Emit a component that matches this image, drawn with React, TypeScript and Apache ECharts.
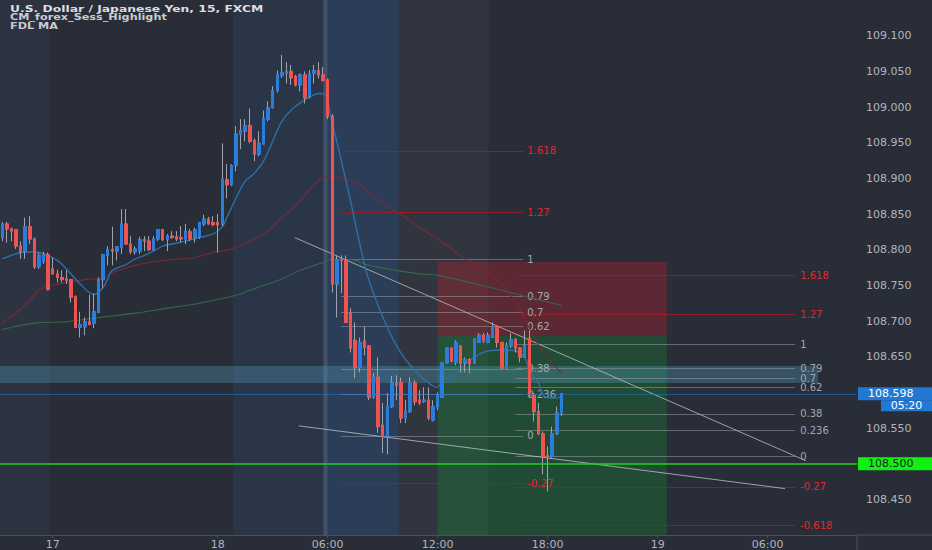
import React, { useEffect, useRef } from 'react';
import * as echarts from 'echarts';

// ---------- candle data (USDJPY, 15 min) ----------
const opens = [
  108.817, 108.836, 108.829, 108.828, 108.805, 108.797, 108.832, 108.815, 108.776, 108.783,
  108.793, 108.773, 108.766, 108.761, 108.759, 108.758, 108.734, 108.691, 108.692, 108.699,
  108.697, 108.712, 108.758, 108.792, 108.800, 108.798, 108.803, 108.836, 108.808, 108.797,
  108.798, 108.814, 108.812, 108.800, 108.815, 108.828, 108.814, 108.819, 108.818, 108.817,
  108.815, 108.825, 108.817, 108.818, 108.836, 108.843, 108.838, 108.838, 108.836, 108.898,
  108.891, 108.918, 108.962, 108.966, 108.974, 108.953, 108.934, 108.948, 108.983, 108.999,
  109.023, 109.044, 109.047, 109.050, 109.043, 109.031, 109.045, 109.015, 109.047, 109.051,
  109.045, 109.038, 108.987, 108.752, 108.786, 108.786, 108.712, 108.673, 108.635, 108.672,
  108.665, 108.593, 108.621, 108.554, 108.538, 108.580, 108.613, 108.614, 108.564, 108.573,
  108.613, 108.589, 108.587, 108.589, 108.561, 108.580, 108.593, 108.641, 108.662, 108.642,
  108.665, 108.641, 108.646, 108.641, 108.670, 108.680, 108.670, 108.677, 108.692, 108.670,
  108.634, 108.665, 108.674, 108.662, 108.649, 108.676, 108.596, 108.573, 108.542, 108.511,
  108.510, 108.542, 108.571,
];
const closes = [
  108.836, 108.829, 108.826, 108.805, 108.797, 108.832, 108.815, 108.776, 108.792, 108.793,
  108.744, 108.766, 108.761, 108.758, 108.757, 108.733, 108.691, 108.695, 108.699, 108.695,
  108.713, 108.758, 108.793, 108.800, 108.798, 108.804, 108.836, 108.808, 108.797, 108.801,
  108.814, 108.812, 108.800, 108.815, 108.828, 108.814, 108.819, 108.817, 108.815, 108.815,
  108.826, 108.815, 108.828, 108.838, 108.843, 108.836, 108.835, 108.835, 108.899, 108.891,
  108.918, 108.962, 108.967, 108.974, 108.952, 108.934, 108.949, 108.984, 108.999, 109.023,
  109.045, 109.048, 109.050, 109.041, 109.031, 109.045, 109.013, 109.047, 109.051, 109.045,
  109.037, 108.987, 108.752, 108.786, 108.785, 108.698, 108.662, 108.635, 108.670, 108.663,
  108.593, 108.621, 108.552, 108.538, 108.580, 108.614, 108.610, 108.564, 108.573, 108.613,
  108.587, 108.585, 108.589, 108.564, 108.580, 108.596, 108.641, 108.662, 108.644, 108.670,
  108.641, 108.646, 108.640, 108.674, 108.680, 108.673, 108.680, 108.692, 108.670, 108.634,
  108.666, 108.674, 108.662, 108.649, 108.666, 108.596, 108.573, 108.542, 108.510, 108.510,
  108.542, 108.571, 108.598,
];
const lows = [
  108.812, 108.810, 108.812, 108.801, 108.787, 108.787, 108.808, 108.773, 108.773, 108.780,
  108.743, 108.765, 108.754, 108.754, 108.752, 108.726, 108.690, 108.677, 108.680, 108.694,
  108.690, 108.711, 108.747, 108.778, 108.778, 108.785, 108.794, 108.807, 108.794, 108.793,
  108.794, 108.798, 108.798, 108.798, 108.812, 108.812, 108.798, 108.815, 108.812, 108.810,
  108.808, 108.812, 108.810, 108.815, 108.833, 108.835, 108.833, 108.796, 108.833, 108.872,
  108.889, 108.910, 108.941, 108.952, 108.949, 108.924, 108.931, 108.948, 108.980, 108.998,
  109.020, 109.041, 109.033, 109.031, 109.029, 109.022, 109.005, 109.012, 109.033, 109.040,
  109.036, 108.983, 108.740, 108.705, 108.739, 108.697, 108.656, 108.620, 108.628, 108.652,
  108.589, 108.591, 108.543, 108.515, 108.513, 108.578, 108.589, 108.557, 108.557, 108.571,
  108.582, 108.582, 108.585, 108.561, 108.559, 108.575, 108.592, 108.640, 108.642, 108.638,
  108.628, 108.628, 108.627, 108.640, 108.669, 108.669, 108.669, 108.676, 108.663, 108.633,
  108.633, 108.662, 108.656, 108.642, 108.648, 108.592, 108.559, 108.540, 108.485, 108.461,
  108.508, 108.540, 108.567,
];
const highs = [
  108.839, 108.839, 108.831, 108.829, 108.812, 108.845, 108.847, 108.817, 108.796, 108.797,
  108.796, 108.789, 108.772, 108.771, 108.771, 108.759, 108.736, 108.713, 108.705, 108.737,
  108.739, 108.761, 108.794, 108.805, 108.832, 108.805, 108.857, 108.857, 108.819, 108.805,
  108.818, 108.819, 108.819, 108.819, 108.829, 108.829, 108.822, 108.826, 108.826, 108.833,
  108.836, 108.829, 108.831, 108.839, 108.849, 108.846, 108.847, 108.850, 108.949, 108.920,
  108.920, 108.973, 108.983, 108.983, 108.998, 108.956, 108.966, 108.995, 109.008, 109.029,
  109.051, 109.073, 109.063, 109.059, 109.045, 109.047, 109.050, 109.052, 109.059, 109.063,
  109.056, 109.040, 108.990, 108.792, 108.792, 108.792, 108.718, 108.698, 108.677, 108.692,
  108.666, 108.627, 108.649, 108.585, 108.599, 108.623, 108.624, 108.621, 108.589, 108.621,
  108.617, 108.603, 108.607, 108.607, 108.589, 108.600, 108.642, 108.663, 108.663, 108.673,
  108.666, 108.649, 108.648, 108.676, 108.683, 108.683, 108.684, 108.698, 108.694, 108.670,
  108.670, 108.683, 108.676, 108.663, 108.687, 108.687, 108.599, 108.585, 108.545, 108.524,
  108.552, 108.580, 108.599,
];

// ---------- FDL MA lines (bar index, price) ----------
const maFastBars = [0, 2, 4, 7, 9, 12, 14, 17, 20, 22, 23, 24, 27, 29, 31, 33, 35, 37, 40, 43, 46, 48, 49, 51, 53, 55, 57, 59, 61, 64, 68, 70, 72, 74, 76, 78, 80, 84, 87, 90, 93, 95, 96, 98, 102, 107, 111, 114, 115, 117, 118, 120, 122];
const maFastVals = [108.787, 108.792, 108.796, 108.797, 108.794, 108.785, 108.773, 108.752, 108.737, 108.747, 108.759, 108.771, 108.779, 108.787, 108.792, 108.798, 108.805, 108.808, 108.812, 108.817, 108.822, 108.832, 108.845, 108.872, 108.896, 108.907, 108.924, 108.952, 108.980, 109.001, 109.017, 109.019, 108.977, 108.924, 108.868, 108.808, 108.757, 108.691, 108.655, 108.631, 108.613, 108.607, 108.617, 108.621, 108.645, 108.659, 108.659, 108.649, 108.631, 108.613, 108.596, 108.592, 108.593];
const maMidBars = [0, 3, 6, 8, 11, 14, 18, 22, 24, 29, 33, 37, 42, 46, 50, 54, 58, 61, 65, 68, 70, 72, 75, 78, 80, 84, 88, 91, 95, 98, 104, 109, 113, 117, 122];
const maMidVals = [108.697, 108.711, 108.729, 108.743, 108.750, 108.754, 108.758, 108.761, 108.768, 108.778, 108.783, 108.786, 108.789, 108.796, 108.801, 108.812, 108.826, 108.845, 108.868, 108.892, 108.900, 108.902, 108.899, 108.891, 108.879, 108.861, 108.845, 108.831, 108.815, 108.801, 108.773, 108.752, 108.715, 108.666, 108.627];
const maSlowBars = [0, 7, 14, 20, 29, 36, 43, 51, 54, 61, 65, 70, 72, 77, 80, 86, 91, 95, 100, 109, 115, 122];
const maSlowVals = [108.688, 108.697, 108.699, 108.704, 108.711, 108.718, 108.725, 108.736, 108.743, 108.759, 108.771, 108.782, 108.787, 108.785, 108.778, 108.771, 108.766, 108.764, 108.757, 108.743, 108.733, 108.722];

// ---------- axes ----------
const slotCount = 187;
const xTickBars = [11, 47, 71, 95, 119, 143, 167];
const xTickLabels = ['17', '18', '06:00', '12:00', '18:00', '19', '06:00'];
const priceMin = 108.4;
const priceMax = 109.15;
const priceStep = 0.05;

// ---------- session highlight (bar index ranges) ----------
const sessionStart = [-0.5, 50.33, 69.93, 86.49];
const sessionEnd = [10.24, 69.93, 86.49, 106.1];
const cursorStart = 70.1;
const cursorEnd = 70.95;

// ---------- drawings ----------
const bandTop = 108.637;
const bandBottom = 108.613;
const bandEndBar = 178;

const entryPrice = 108.679;
const stopPrice = 108.783;
const positionStartBar = 95;
const positionEndBar = 145;

const fib1High = 108.786;
const fib1Low = 108.539;
const fib1StartBar = 73.9;
const fib1EndBar = 113.7;
const fib1Levels = [1.618, 1.27, 1, 0.79, 0.7, 0.62, 0.38, 0.236, 0, -0.27];

const fib2High = 108.667;
const fib2Low = 108.51;
const fib2StartBar = 112;
const fib2EndBar = 173;
const fib2Levels = [1.618, 1.27, 1, 0.79, 0.7, 0.62, 0.38, 0.236, 0, -0.27, -0.618];

const trendStartBars = [63.8, 64.7];
const trendStartPrices = [108.817, 108.553];
const trendEndBars = [175.4, 170.8];
const trendEndPrices = [108.504, 108.465];

const supportPrice = 108.5;
const countdownText = '05:20';
const titleLines = ['U.S. Dollar / Japanese Yen, 15, FXCM', 'CM_forex_Sess_Highlight', 'FDL MA'];

// ---------- styles ----------
const FONT = '"DejaVu Sans", sans-serif';
const BG = '#292d38';
const UP = '#2a7ddb';
const DOWN = '#ef5350';
const WICK = '#a0a3ab';
const AXIS = '#4c505b';
const TEXT = '#b2b5be';
const sessionColors = ['#2e3342', '#2b3548', '#2c3e57', '#30353f'];
const FIB_GRAY_LINE = 'rgba(150,154,164,0.55)';
const FIB_GRAY_TEXT = '#a4a7b0';
const FIB_RED_LINE = 'rgba(160,28,34,0.85)';
const FIB_RED_TEXT = '#e3262e';

const slotMin = -0.5;
const slotMax = slotCount - 0.5;
const lastPrice = closes[closes.length - 1];
const badgePrices = [lastPrice, supportPrice, stopPrice, entryPrice];

type Rect = { x0: number; x1: number; y0: number; y1: number; color: string };

function rectSeries(rects: Rect[], z: number) {
  return {
    type: 'custom',
    xAxisIndex: 1,
    yAxisIndex: 0,
    z,
    silent: true,
    data: rects.map((r) => [r.x0, r.x1, r.y0, r.y1]),
    renderItem: (params: any, api: any) => {
      const a = api.coord([api.value(0), api.value(3)]);
      const b = api.coord([api.value(1), api.value(2)]);
      return {
        type: 'rect',
        shape: { x: a[0], y: a[1], width: b[0] - a[0], height: b[1] - a[1] },
        style: { fill: rects[params.dataIndex].color },
      };
    },
  };
}

function fibItems(high: number, low: number, x0: number, x1: number, levels: number[]) {
  return levels.map((lv) => {
    const p = low + lv * (high - low);
    const ext = lv > 1 || lv < 0;
    return {
      name: String(lv),
      coords: [[x0, p], [x1, p]],
      lineStyle: { color: ext ? FIB_RED_LINE : FIB_GRAY_LINE, width: 1, opacity: 1 },
      label: { color: ext ? FIB_RED_TEXT : FIB_GRAY_TEXT },
    };
  });
}

function badge(price: number, bg: string, fg: string, lineColor: string, lineOpacity: number, lineWidth: number) {
  return {
    name: price.toFixed(3),
    coords: [[slotMin, price], [slotMax, price]],
    lineStyle: { color: lineColor, opacity: lineOpacity, width: lineWidth },
    label: {
      show: true,
      position: 'end',
      distance: 1,
      formatter: '{b}',
      backgroundColor: bg,
      color: fg,
      fontSize: 11,
      fontFamily: FONT,
      width: 64,
      lineHeight: 11,
      padding: [1, 0, 1, 10],
    },
  };
}

function buildOption() {
  const tickSet = new Set(xTickBars);
  const labelByBar: Record<number, string> = {};
  xTickBars.forEach((b, k) => (labelByBar[b] = xTickLabels[k]));
  const categories = Array.from({ length: slotCount }, (_, i) => String(i));

  const sessions: Rect[] = sessionStart.map((s, k) => ({
    x0: s, x1: sessionEnd[k], y0: priceMin, y1: priceMax, color: sessionColors[k],
  }));
  sessions.push({ x0: cursorStart, x1: cursorEnd, y0: priceMin, y1: priceMax, color: 'rgba(165,185,215,0.17)' });

  const zones: Rect[] = [
    { x0: positionStartBar, x1: positionEndBar, y0: entryPrice, y1: stopPrice, color: 'rgba(200,30,40,0.32)' },
    { x0: positionStartBar, x1: positionEndBar, y0: priceMin, y1: entryPrice, color: 'rgba(20,160,50,0.27)' },
  ];
  const band: Rect[] = [
    { x0: slotMin, x1: bandEndBar, y0: bandBottom, y1: bandTop, color: 'rgba(80,150,175,0.36)' },
  ];

  const candleRaw = opens.map((o, i) => [o, closes[i], lows[i], highs[i]]);
  const candleBody = opens.map((o, i) => [o, closes[i], Math.min(o, closes[i]), Math.max(o, closes[i])]);

  const maLine = (bars: number[], vals: number[], color: string, width: number) => ({
    type: 'line',
    xAxisIndex: 1,
    yAxisIndex: 0,
    z: 5,
    silent: true,
    smooth: 0.35,
    showSymbol: false,
    symbol: 'none',
    data: bars.map((b, k) => [b, vals[k]]),
    lineStyle: { color, width },
  });

  const fibLabel = (dist: number) => ({
    show: true,
    position: 'end',
    distance: dist,
    formatter: '{b}',
    fontSize: 10,
    lineHeight: 8,
    fontFamily: FONT,
  });

  return {
    animation: false,
    backgroundColor: BG,
    textStyle: { fontFamily: FONT },
    grid: { left: -1.3, right: 75, top: -1.9, bottom: 14.3 },
    xAxis: [
      {
        type: 'category',
        data: categories,
        boundaryGap: true,
        axisLine: { lineStyle: { color: AXIS } },
        axisTick: {
          show: true,
          alignWithLabel: true,
          length: 3,
          interval: (idx: number) => tickSet.has(idx),
          lineStyle: { color: AXIS },
        },
        axisLabel: {
          interval: (idx: number) => tickSet.has(idx),
          formatter: (_v: string, idx: number) => labelByBar[idx] || '',
          color: TEXT,
          fontSize: 11,
          fontFamily: FONT,
          margin: 4,
        },
        splitLine: { show: false },
      },
      { type: 'value', min: slotMin, max: slotMax, show: false },
    ],
    yAxis: {
      type: 'value',
      position: 'right',
      min: priceMin,
      max: priceMax,
      interval: priceStep,
      axisLine: { show: true, lineStyle: { color: AXIS } },
      axisTick: { show: true, length: 4, lineStyle: { color: AXIS } },
      axisLabel: {
        color: TEXT,
        fontSize: 11,
        fontFamily: FONT,
        margin: 9,
        showMinLabel: false,
        showMaxLabel: false,
        // labels hidden behind the price badges are not drawn
        formatter: (v: number) => (badgePrices.some((b) => Math.abs(b - v) < 0.009) ? '' : v.toFixed(3)),
      },
      splitLine: { show: false },
    },
    series: [
      rectSeries(sessions, 1),
      rectSeries(zones, 2),
      rectSeries(band, 3),
      {
        type: 'lines',
        coordinateSystem: 'cartesian2d',
        xAxisIndex: 1,
        yAxisIndex: 0,
        z: 4,
        silent: true,
        clip: false,
        lineStyle: { opacity: 1, width: 1 },
        label: fibLabel(4),
        data: fibItems(fib1High, fib1Low, fib1StartBar, fib1EndBar, fib1Levels),
      },
      {
        type: 'lines',
        coordinateSystem: 'cartesian2d',
        xAxisIndex: 1,
        yAxisIndex: 0,
        z: 4,
        silent: true,
        clip: false,
        lineStyle: { opacity: 1, width: 1 },
        label: fibLabel(5),
        data: fibItems(fib2High, fib2Low, fib2StartBar, fib2EndBar, fib2Levels),
      },
      {
        type: 'lines',
        coordinateSystem: 'cartesian2d',
        xAxisIndex: 1,
        yAxisIndex: 0,
        z: 4,
        silent: true,
        clip: false,
        lineStyle: { opacity: 1, width: 1, color: 'rgba(196,199,206,0.75)' },
        data: trendStartBars.map((b, k) => ({
          coords: [[b, trendStartPrices[k]], [trendEndBars[k], trendEndPrices[k]]],
        })),
      },
      maLine(maSlowBars, maSlowVals, '#35694a', 1.1),
      maLine(maMidBars, maMidVals, '#7c2a34', 1.1),
      maLine(maFastBars, maFastVals, '#2d6fa6', 1.4),
      {
        type: 'candlestick',
        xAxisIndex: 0,
        yAxisIndex: 0,
        z: 6,
        silent: true,
        barWidth: 3,
        data: candleRaw,
        itemStyle: { color: 'transparent', color0: 'transparent', borderColor: WICK, borderColor0: WICK, borderWidth: 1 },
      },
      {
        type: 'candlestick',
        xAxisIndex: 0,
        yAxisIndex: 0,
        z: 7,
        silent: true,
        barWidth: 3,
        data: candleBody,
        itemStyle: { color: UP, color0: DOWN, borderColor: UP, borderColor0: DOWN, borderWidth: 1 },
      },
      {
        type: 'lines',
        coordinateSystem: 'cartesian2d',
        xAxisIndex: 1,
        yAxisIndex: 0,
        z: 8,
        silent: true,
        clip: false,
        lineStyle: { opacity: 1, width: 1 },
        data: [
          badge(lastPrice, '#2279d4', '#ffffff', 'rgba(34,121,212,0.55)', 1, 1),
          badge(supportPrice, '#12f012', '#1b1e27', '#1ad41a', 1, 1.5),
          badge(stopPrice, '#ee1a22', '#ffffff', '#ee1a22', 0, 1),
          badge(entryPrice, '#5c5f6a', '#ffffff', '#5c5f6a', 0, 1),
        ],
      },
    ],
  };
}

export default function App() {
  const ref = useRef<HTMLDivElement>(null);
  useEffect(() => {
    document.body.style.margin = '0';
    const chart = echarts.init(ref.current as HTMLDivElement, null, { renderer: 'svg' });
    chart.setOption(buildOption() as any);
    const gx = chart.convertToPixel({ xAxisIndex: 1 } as any, slotMax) as unknown as number;
    const py = chart.convertToPixel({ yAxisIndex: 0 } as any, lastPrice) as unknown as number;
    const by = chart.convertToPixel({ yAxisIndex: 0 } as any, priceMin) as unknown as number;
    const cw = 932 - gx - 24;
    const titleText = (k: number, y: number, size: number, sx: number, fill: string) => ({
      type: 'text',
      x: 10,
      y,
      scaleX: sx,
      z: 100,
      silent: true,
      style: { text: titleLines[k], fill, font: `bold ${size}px ${FONT}`, verticalAlign: 'middle', lineHeight: 8 },
    });
    chart.setOption({
      graphic: [
        titleText(0, 8.5, 9.5, 1.3, '#dcdee3'),
        titleText(1, 17.3, 9, 1.25, '#c9cbd1'),
        titleText(2, 26, 9, 1.25, '#c9cbd1'),
        { type: 'line', z: 100, silent: true, shape: { x1: gx, y1: by, x2: 932, y2: by }, style: { stroke: AXIS, lineWidth: 1 } },
        { type: 'line', z: 100, silent: true, shape: { x1: gx, y1: by, x2: gx, y2: 550 }, style: { stroke: AXIS, lineWidth: 1 } },
        { type: 'rect', z: 100, silent: true, shape: { x: gx + 24, y: py + 6.5, width: cw, height: 11 }, style: { fill: '#2279d4' } },
        {
          type: 'text', z: 101, silent: true, x: gx + 24 + cw / 2, y: py + 12,
          style: { text: countdownText, fill: '#ffffff', font: `11px ${FONT}`, align: 'center', verticalAlign: 'middle' },
        },
      ],
    });
    return () => chart.dispose();
  }, []);
  return <div ref={ref} style={{ position: 'fixed', left: 0, top: 0, width: 932, height: 550 }} />;
}
